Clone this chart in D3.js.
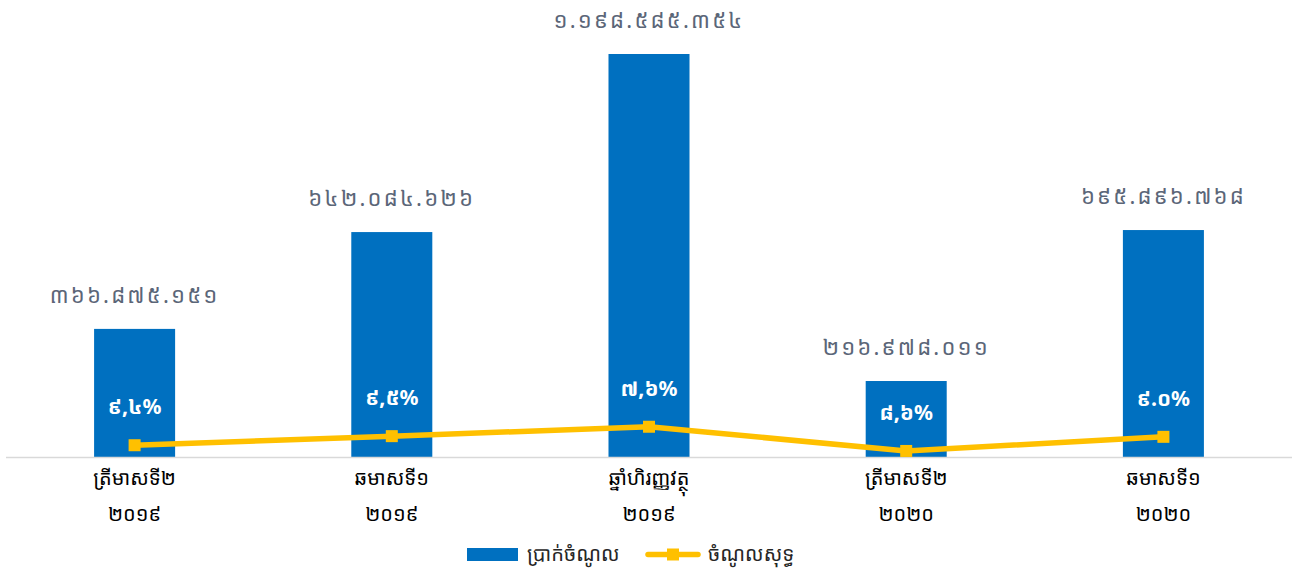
<!DOCTYPE html>
<html>
<head>
<meta charset="utf-8">
<script src="https://cdn.jsdelivr.net/npm/d3@7"></script>
<style>
  body { margin: 0; background: #fff; }
  svg { display: block; font-family: "Noto Sans Khmer", "Khmer OS Siemreap", "Khmer OS", "Noto Sans", "DejaVu Sans", sans-serif; }
</style>
</head>
<body>
<script>
// categories (two lines each)
const periods = ["ត្រីមាសទី២", "ឆមាសទី១", "ឆ្នាំហិរញ្ញវត្ថុ", "ត្រីមាសទី២", "ឆមាសទី១"];
const years = ["២០១៩", "២០១៩", "២០១៩", "២០២០", "២០២០"];

// revenue bars (million) and their printed labels
const revenue = [381, 669, 1198.6, 226, 675];
const revenueLabels = ["៣៦៦.៨៧៥.១៥១", "៦៤២.០៨៤.៦២៦", "១.១៩៨.៥៨៥.៣៥៤", "២១៦.៩៧៨.០១១", "៦៩៥.៨៩៦.៧៦៨"];

// net income line (million) and its margin labels
const netIncome = [35, 62, 90, 18, 60];
const marginLabels = ["៩,៤%", "៩,៥%", "៧,៦%", "៨,៦%", "៩.០%"];

const legendNames = ["ប្រាក់ចំណូល", "ចំណូលសុទ្ធ"];

const width = 1294, height = 573;
const margin = { top: 54, right: 2, bottom: 116, left: 6 };
const barColor = "#0070C0", lineColor = "#FFC000";

const svg = d3.select("body").append("svg")
    .attr("width", width)
    .attr("height", height);

const x = d3.scaleBand()
    .domain(d3.range(periods.length))
    .range([margin.left, width - margin.right])
    .paddingInner(0.685)
    .paddingOuter(0.3425);

const y = d3.scaleLinear()
    .domain([0, d3.max(revenue)])
    .range([height - margin.bottom, margin.top]);

const base = y(0);

// bars
svg.append("g").selectAll("rect")
    .data(revenue)
    .join("rect")
    .attr("x", (d, i) => x(i))
    .attr("y", d => y(d))
    .attr("width", x.bandwidth())
    .attr("height", d => base - y(d))
    .attr("fill", barColor);

// axis line
svg.append("line")
    .attr("x1", margin.left).attr("x2", width - margin.right)
    .attr("y1", base + 0.5).attr("y2", base + 0.5)
    .attr("stroke", "#d9d9d9")
    .attr("stroke-width", 1.5);

// revenue labels above bars
svg.append("g").selectAll("text")
    .data(revenue)
    .join("text")
    .attr("x", (d, i) => x(i) + x.bandwidth() / 2)
    .attr("y", d => y(d) - 26)
    .attr("text-anchor", "middle")
    .attr("fill", "#5b6678")
    .attr("font-size", 22)
    .attr("letter-spacing", 2.2)
    .text((d, i) => revenueLabels[i]);

// net income line
const cx = i => x(i) + x.bandwidth() / 2;
const line = d3.line()
    .x((d, i) => cx(i))
    .y(d => y(d));

svg.append("path")
    .datum(netIncome)
    .attr("fill", "none")
    .attr("stroke", lineColor)
    .attr("stroke-width", 5.5)
    .attr("stroke-linejoin", "round")
    .attr("d", line);

svg.append("g").selectAll("rect")
    .data(netIncome)
    .join("rect")
    .attr("x", (d, i) => cx(i) - 6)
    .attr("y", d => y(d) - 6)
    .attr("width", 12)
    .attr("height", 12)
    .attr("fill", lineColor);

// margin labels
svg.append("g").selectAll("text")
    .data(netIncome)
    .join("text")
    .attr("x", (d, i) => cx(i))
    .attr("y", d => y(d) - 31)
    .attr("text-anchor", "middle")
    .attr("fill", "#fff")
    .attr("font-weight", "bold")
    .attr("font-size", 21)
    .text((d, i) => marginLabels[i]);

// category labels
const cats = svg.append("g").selectAll("g")
    .data(periods)
    .join("g")
    .attr("transform", (d, i) => `translate(${cx(i)},0)`)
    .attr("text-anchor", "middle")
    .attr("fill", "#000")
    .attr("font-size", 20);

cats.append("text")
    .attr("y", base + 28)
    .text(d => d);

cats.append("text")
    .attr("y", base + 64)
    .text((d, i) => years[i]);

// legend
const legend = svg.append("g").attr("font-size", 20).attr("fill", "#262626");
legend.append("rect")
    .attr("x", 467).attr("y", 548)
    .attr("width", 51).attr("height", 13)
    .attr("fill", barColor);
legend.append("text")
    .attr("x", 527).attr("y", 561)
    .text(legendNames[0]);
legend.append("line")
    .attr("x1", 648).attr("x2", 698)
    .attr("y1", 554.5).attr("y2", 554.5)
    .attr("stroke", lineColor)
    .attr("stroke-width", 5.5)
    .attr("stroke-linecap", "round");
legend.append("rect")
    .attr("x", 667).attr("y", 548.5)
    .attr("width", 12).attr("height", 12)
    .attr("fill", lineColor);
legend.append("text")
    .attr("x", 708).attr("y", 561)
    .text(legendNames[1]);
</script>
</body>
</html>
